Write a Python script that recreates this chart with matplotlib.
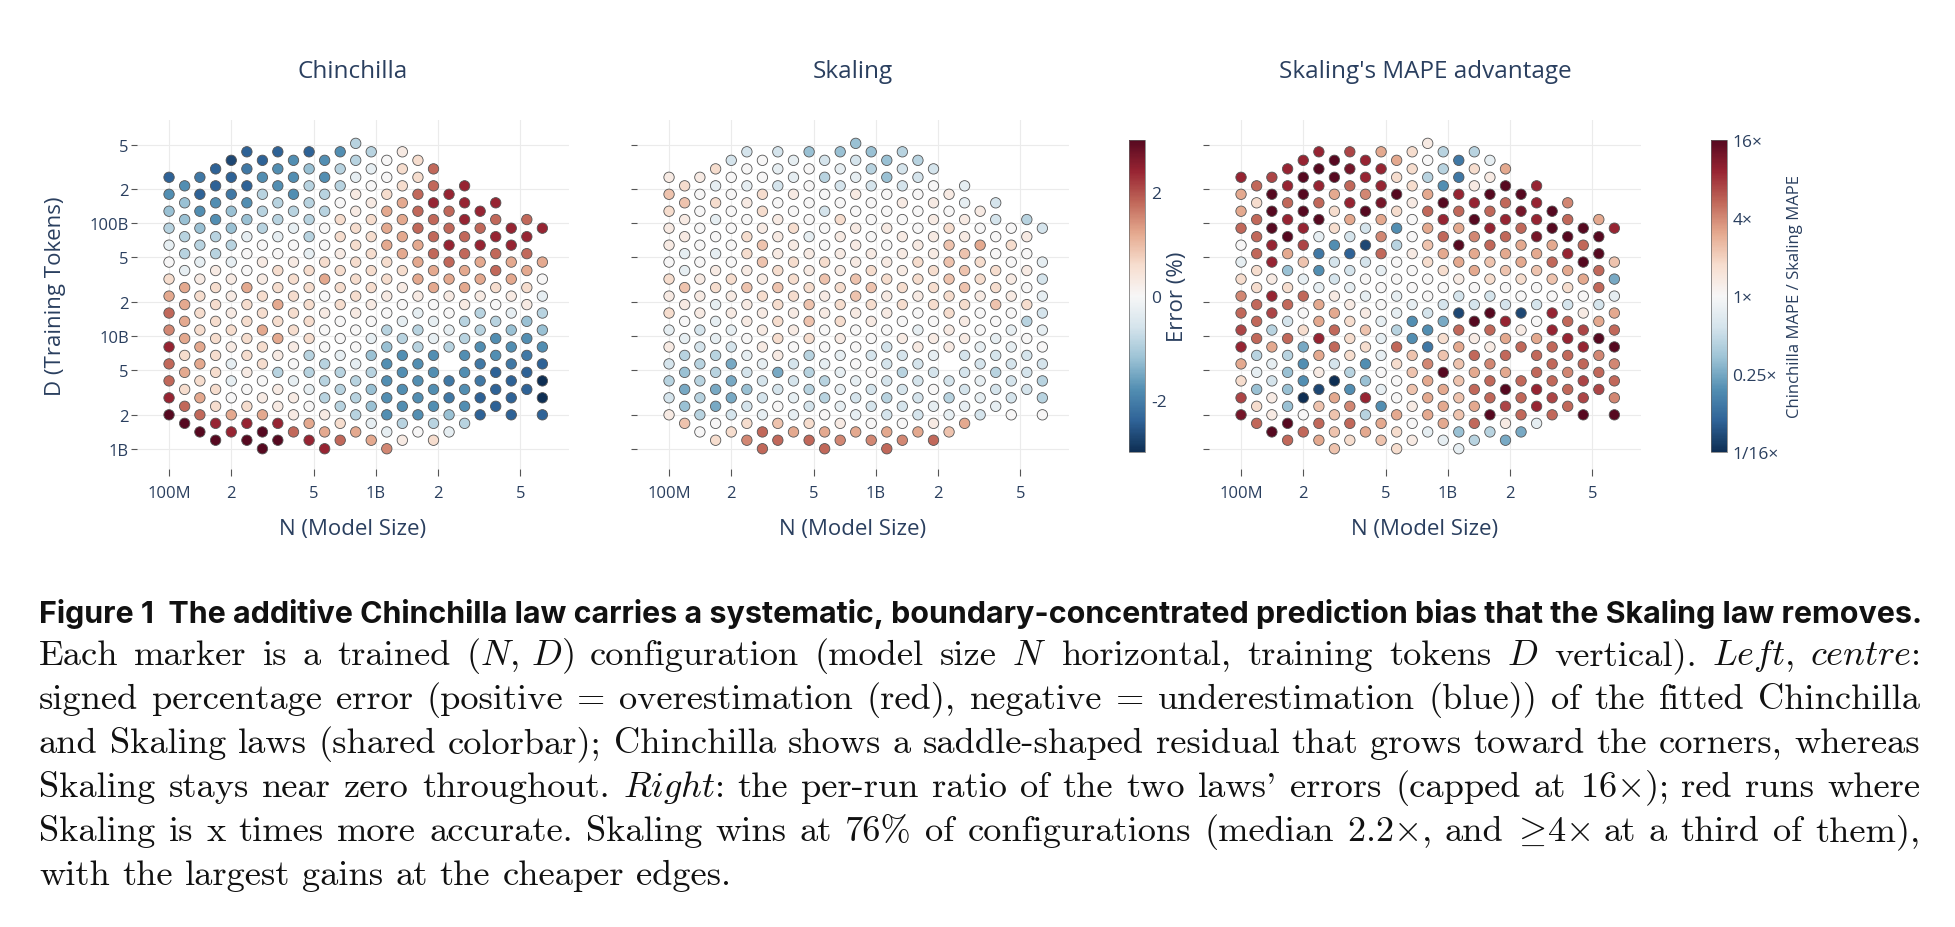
import matplotlib
matplotlib.use("Agg")
import matplotlib.pyplot as plt
import numpy as np
from matplotlib.colors import ListedColormap
from matplotlib.ticker import NullLocator

plt.rcParams["font.family"] = ["Open Sans", "DejaVu Sans"]
plt.rcParams["mathtext.fontset"] = "cm"

W, H = 1956, 928
TEXT = "#2a3f5f"

# grid of trained configurations: model size N (millions) per column, tokens D (billions) per row
n_params_m = [100, 119, 141, 168, 200, 238, 283, 336, 400, 476, 566, 673, 800,
              951, 1131, 1345, 1600, 1903, 2263, 2691, 3200, 3806, 4525, 5382, 6400]
d_tokens_b = [1.0, 1.19, 1.41, 1.68, 2.0, 2.38, 2.83, 3.36, 4.0, 4.76, 5.66, 6.73,
              8.0, 9.51, 11.3, 13.5, 16.0, 19.0, 22.6, 26.9, 32.0, 38.1, 45.3, 53.8,
              64.0, 76.1, 90.5, 108, 128, 152, 181, 215, 256, 304, 362, 431, 512]
# lowest D row of each column, the column then steps up two rows at a time
col_start = [4, 3, 2, 1, 2, 1, 0, 1, 2, 1, 0, 1, 2, 1, 0, 1, 2, 1, 2, 3, 4, 5, 4, 7, 4]

# signed error, in steps of 0.3 %, bottom to top per column (None = missing run)
ERR_STEP = 0.3
chin_err = [
    [10, 8, 6, 6, 8, 5, 6, 4, 2, 0, -1, -3, -4, -6, -8],
    [10, 6, 2, 4, 2, 4, 4, 4, 4, -1, -3, -3, -4, -4, -6],
    [10, 6, 4, 2, 4, 4, 2, 2, 2, 1, -1, -3, -4, -6, -8, -7],
    [10, 8, 2, 2, 2, 2, 2, 2, 2, 2, 1, -3, -3, -6, -6, -8, -8],
    [8, 4, 0, -1, -1, 1, 2, 1, 1, 1, -1, -3, -4, -4, -7, -8, -9],
    [10, 8, 2, 0, 1, 2, 2, 2, 2, 4, 0, 0, -1, -4, -6, -8, -7, -8],
    [10, 10, 4, 1, 0, 2, 2, 4, 2, 2, 1, 1, 0, -3, -3, -3, -6, -8],
    [10, 8, 1, 1, -3, 1, 4, 2, 4, 2, 2, 0, -1, -3, -3, -6, -6, -8],
    [6, 1, 1, -1, 0, 1, 2, 2, 2, 2, 1, 0, -1, -3, -6, -6, -6],
    [8, 4, 0, -1, -3, -3, 2, 2, 2, 2, 2, -1, -3, -3, -3, -3, -4, -8],
    [8, 4, 1, -3, -3, -3, 0, 0, 1, 0, 4, 2, 0, 0, -3, -3, -6, -6],
    [6, 2, -3, -3, -3, -1, 0, 0, 2, 2, 2, 1, 2, 2, 0, -3, -3, -6],
    [4, -3, -3, -3, -1, 0, 0, 1, 2, 2, 2, 2, 2, 1, 1, -1, -3, -3],
    [4, -1, -4, -4, -3, -4, -1, 0, 1, 2, 2, 2, 2, 2, 1, 0, -1, -3],
    [5, -1, -6, -6, -6, -6, -4, -3, 0, 1, 2, 2, 4, 4, 4, 2, 0, 0],
    [1, -3, -6, -6, -6, -6, -3, -1, 0, 1, 2, 4, 4, 4, 4, 2, 2, 1],
    [0, -6, -6, -6, -6, -3, -3, -1, 1, 4, 4, 4, 6, 6, 6, 2, 2],
    [2, -3, -6, -6, -6, -6, -1, -1, 0, 4, 4, 6, 6, 6, 8, 6, 6],
    [-1, -4, -7, -7, None, -3, -1, 0, 1, 4, 6, 8, 6, 6, 8],
    [-3, -6, -6, -6, -6, -3, -3, 1, 4, 4, 6, 6, 8, 8, 8],
    [-8, -8, -7, -7, -6, -3, -3, 1, 4, 4, 8, 6, 8],
    [-8, -8, -8, -6, -6, -3, 0, 2, 6, 6, 8, 6, 8],
    [-8, -8, -8, -7, -6, -4, -1, 1, 4, 4, 8, 8],
    [-8, -8, -7, -6, -4, 1, 2, 4, 6, 8, 6],
    [-8, -10, -10, -8, -6, -4, -3, -1, 0, 4, None, 8],
]
skal_err = [
    [1, -2, -3, -2, 1, -1, 2, 1, 2, 0, 1, 1, 2, 3, 1],
    [3, -4, -5, -4, -3, -1, 0, 1, 3, -1, -1, 1, 1, 3, 2],
    [0, -3, -3, -3, -3, -2, -2, 1, 1, 1, 0, 0, 0, 0, 0, 1],
    [2, 0, -5, -5, -3, -3, -1, -1, -1, 2, 1, -1, 0, -1, 2, -1, 2],
    [2, -2, -5, -5, -5, -2, -1, 1, 1, 2, 0, 0, 0, 0, 0, 0, -2],
    [5, 2, -2, -4, -2, -1, 0, 1, 1, 3, 1, 2, 2, 0, 1, -1, 0, -2],
    [6, 6, -1, -2, -2, -1, 1, 1, 1, 2, 1, 3, 3, 1, 2, 2, 0, 0],
    [6, 3, 0, -2, -5, 1, 2, 2, 2, 3, 2, 1, 1, 1, 0, -2, -1, -2],
    [4, -1, -1, -2, -2, 0, 1, 1, 2, 2, 2, 1, 2, 0, 1, -1, -1],
    [6, 2, -2, -3, -3, -3, 2, 3, 3, 2, 1, 1, -1, 0, 0, 0, 0, -4],
    [6, 4, 0, -3, -3, -1, 0, 0, 1, 1, 3, 2, 0, 0, -2, 0, -3, -2],
    [5, 1, -1, -1, -1, -1, 1, 2, 2, 2, 1, 1, 1, 2, 0, -2, -1, -4],
    [4, -1, -2, -1, 0, 0, 0, 1, 3, 3, 1, 1, 1, 0, 1, -1, -2, -4],
    [5, 0, -2, -2, 0, -2, 0, 1, 2, 3, 2, 1, 0, 0, 0, -2, -3, -4],
    [6, 4, -2, -3, -2, -2, -2, 0, 1, 1, 2, 1, 0, 1, 0, 0, -4, -4],
    [5, 0, -2, -2, -3, -2, 1, 0, 2, 2, 1, 1, 1, 0, 1, -2, -2, -3],
    [4, -2, -2, -2, -2, 1, -1, 0, 1, 2, 2, 1, 0, 0, 0, -2, -3],
    [6, 1, -1, 0, -2, -1, 1, 0, 2, 2, 2, 1, 1, 1, 1, 0, -2],
    [3, -1, -3, -2, None, 1, 1, 2, 2, 3, 3, 3, 2, 0, 1],
    [4, -1, -2, -2, -2, 1, 1, 2, 3, 3, 3, 1, 1, -1, -1],
    [-2, -1, -1, -2, -1, 0, 0, 1, 2, 2, 4, 0, 1],
    [-1, -2, -3, -2, -1, 0, 3, 2, 2, 0, 0, -2, -2],
    [0, -2, -2, -2, -1, -1, 0, 1, 1, 0, 2, 0],
    [-2, -2, -2, 0, -3, 2, 0, 1, 0, 1, -3],
    [0, -3, -3, -2, 0, -1, -2, -1, -2, -1, None, -2],
]
# Chinchilla MAPE / Skaling MAPE, log2 in steps of 0.4, capped at 16x
RATIO_STEP = 0.4
mape_ratio = [
    [9, 7, 2, 4, 8, 7, 6, 5, 2, -1, 0, 6, 4, 4, 8],
    [6, 2, -4, -1, -3, 6, 6, 6, 2, 2, 6, 6, 6, 2, 6],
    [10, 1, 1, -2, -1, 4, -3, 7, 8, 1, 8, 8, 10, 10, 10, 7],
    [6, 10, -4, -4, -4, -3, 6, -2, 6, 2, -4, 4, 10, 8, 6, 8, 8],
    [6, 0, -10, -6, -6, -5, 2, 0, 6, -1, 3, 7, 8, 10, 10, 10, 8],
    [4, 6, 3, -9, 1, 4, 8, 4, 4, -1, -6, -7, -1, 10, 6, 8, 10, 8],
    [3, 3, 3, 4, -10, -2, 6, 6, 4, 1, -2, -2, -6, 2, 2, 4, 10, 10],
    [2, 6, 5, -6, -3, 2, 2, 2, 1, -1, -2, -8, -2, 4, 8, 6, 9, 7],
    [4, -3, 8, -4, -6, 2, 3, 1, -1, 0, -2, -9, -2, 10, 5, 8, 8],
    [3, 4, -6, -1, 0, -1, -1, -1, 0, 0, -1, 6, 5, 4, 9, 8, 8, 4],
    [2, 2, 4, 0, 0, 2, 6, -3, -1, -1, 0, 0, -3, -6, 2, 10, 2, 4],
    [1, 0, 1, 3, 3, 3, -6, -6, -1, 0, 0, 1, 0, 0, 1, 2, 2, 2],
    [-1, 4, 4, 4, 5, -7, -6, -2, 0, 0, 2, 3, 4, 6, 4, -3, 0, 1],
    [-1, 4, 4, 4, 10, 3, 2, -5, -2, 0, 2, 4, 6, 8, 10, -6, -3, -3],
    [-1, -4, 3, 3, 3, 3, 4, 6, -9, -2, 1, 4, 10, 4, 6, 8, -7, -7],
    [-3, 6, 4, 6, 4, 6, 1, 10, -2, 0, 4, 4, 5, 10, 8, 1, 2, -3],
    [-3, 10, 6, 6, 5, 1, 6, 10, -2, 2, 3, 6, 8, 6, 10, 1, -1],
    [-5, 1, 7, 10, 4, 6, 4, 8, -2, 0, 3, 4, 6, 8, 6, 10, 4],
    [-5, 6, 6, 6, None, 6, 1, -9, 0, 2, 4, 4, 6, 9, 10],
    [-1, 8, 8, 6, 6, 4, 0, -2, 0, 3, 4, 9, 8, 8, 8],
    [6, 7, 6, 6, 6, 8, 8, 0, 3, 6, 4, 10, 10],
    [6, 6, 5, 6, 8, 6, -2, 2, 4, 8, 10, 6, 5],
    [10, 7, 7, 6, 8, 7, 1, 0, 4, 10, 6, 10],
    [7, 6, 5, 10, 4, -2, 6, 6, 10, 10, 4],
    [10, 5, 6, 5, 10, 6, 4, -1, -5, 3, None, 8],
]

x_ticks = [1e8, 2e8, 5e8, 1e9, 2e9, 5e9]
x_ticklabels = ["100M", "2", "5", "1B", "2", "5"]
y_ticks = [1e9, 2e9, 5e9, 1e10, 2e10, 5e10, 1e11, 2e11, 5e11]
y_ticklabels = ["1B", "2", "5", "10B", "2", "5", "100B", "2", "5"]


def rect(x, y, w, h):
    return [x / W, 1 - (y + h) / H, w / W, h / H]


def fpos(x, y):
    return x / W, 1 - y / H


# RdBu_r, a little muted like the exported figure
rgb = plt.get_cmap("RdBu_r")(np.linspace(0, 1, 256))[:, :3]
lum = (rgb @ np.array([0.299, 0.587, 0.114]))[:, None]
cmap = ListedColormap(rgb * 0.75 + lum * 0.25)

fig = plt.figure(figsize=(W / 100, H / 100), dpi=100)

panels = [
    ("Chinchilla", chin_err, ERR_STEP, -3, 3, 137),
    ("Skaling", skal_err, ERR_STEP, -3, 3, 637),
    ("Skaling's MAPE advantage", mape_ratio, RATIO_STEP, -4, 4, 1209),
]
scatters = []
for p, (title, cols, step, lo, hi, left) in enumerate(panels):
    ax = fig.add_axes(rect(left, 121.4, 432, 348.3))
    xs, ys, cs = [], [], []
    for k, col in enumerate(cols):
        for i, v in enumerate(col):
            if v is None:
                continue
            xs.append(n_params_m[k] * 1e6)
            ys.append(d_tokens_b[col_start[k] + 2 * i] * 1e9)
            cs.append(v * step)
    sc = ax.scatter(xs, ys, c=cs, cmap=cmap, vmin=lo, vmax=hi, s=56,
                    edgecolors="#555555", linewidths=0.6, zorder=3)
    scatters.append(sc)
    ax.set_xscale("log")
    ax.set_yscale("log")
    ax.set_xlim(10 ** 7.845, 10 ** 9.935)
    ax.set_ylim(10 ** 8.823, 10 ** 11.913)
    ax.xaxis.set_minor_locator(NullLocator())
    ax.yaxis.set_minor_locator(NullLocator())
    ax.set_xticks(x_ticks)
    ax.set_xticklabels(x_ticklabels)
    ax.set_yticks(y_ticks)
    ax.set_yticklabels(y_ticklabels if p == 0 else [""] * len(y_ticks))
    ax.grid(True, color="#ebebeb", lw=0.8)
    ax.set_axisbelow(True)
    for s in ax.spines.values():
        s.set_visible(False)
    ax.tick_params(axis="y", direction="out", length=4, width=0.8, color="#555555",
                   labelsize=12, labelcolor=TEXT, pad=2)
    ax.tick_params(axis="x", direction="out", length=5, width=0.8, color="#555555",
                   labelsize=12, labelcolor=TEXT, pad=7)
    fig.text(*fpos(left + 216, 72), title, ha="center", va="center",
             fontsize=17.5, color=TEXT)
    fig.text(*fpos(left + 216, 530), "N (Model Size)", ha="center", va="center",
             fontsize=16, color=TEXT)

fig.text(*fpos(56, 296), "D (Training Tokens)", rotation=90, ha="center", va="center",
         fontsize=16, color=TEXT)

# shared error colorbar
cax = fig.add_axes(rect(1129, 140.7, 16.4, 312.6))
cb = fig.colorbar(scatters[0], cax=cax)
cb.set_ticks([-2, 0, 2])
cb.set_ticklabels(["-2", "0", "2"])
cb.ax.tick_params(length=0, labelsize=12.5, labelcolor=TEXT, pad=4)
cb.outline.set_edgecolor("#666666")
cb.outline.set_linewidth(0.5)
fig.text(*fpos(1177, 297), "Error (%)", rotation=90, ha="center", va="center",
         fontsize=16, color=TEXT)

# ratio colorbar
cax2 = fig.add_axes(rect(1711, 140.7, 16, 312.6))
cb2 = fig.colorbar(scatters[2], cax=cax2)
cb2.set_ticks([-4, -2, 0, 2, 4])
cb2.set_ticklabels(["1/16×", "0.25×", "1×", "4×", "16×"])
cb2.ax.tick_params(length=0, labelsize=12.5, labelcolor=TEXT, pad=4)
cb2.outline.set_edgecolor("#666666")
cb2.outline.set_linewidth(0.5)
fig.text(*fpos(1795, 297), "Chinchilla MAPE / Skaling MAPE", rotation=90,
         ha="center", va="center", fontsize=12, color=TEXT)

# caption
renderer = fig.canvas.get_renderer()
X0, X1 = 39, 1920

head = fig.text(*fpos(X0, 623),
                "Figure 1  The additive Chinchilla law carries a systematic, "
                "boundary-concentrated prediction bias that the Skaling law removes.",
                fontsize=20, fontweight="bold", family=["Inter", "DejaVu Sans"],
                color="#111111", va="baseline", ha="left")
hw = head.get_window_extent(renderer).width
head.set_fontsize(20 * (1927 - X0) / hw)

body = [
    r"Each marker is a trained $(N,\,D)$ configuration (model size $N$ horizontal, "
    r"training tokens $D$ vertical). $\mathit{Left,}$ $\mathit{centre}$:",
    "signed percentage error (positive = overestimation (red), negative = "
    "underestimation (blue)) of the fitted Chinchilla",
    "and Skaling laws (shared colorbar); Chinchilla shows a saddle-shaped residual "
    "that grows toward the corners, whereas",
    r"Skaling stays near zero throughout. $\mathit{Right}$: the per-run ratio of the "
    r"two laws' errors (capped at 16$\times$); red runs where",
    r"Skaling is x times more accurate. Skaling wins at 76% of configurations "
    r"(median 2.2$\times$, and $\!\geq\!$4$\times$ at a third of them),",
    "with the largest gains at the cheaper edges.",
]
baselines = [665, 709, 753, 797, 841, 885]
base = 24
serif = ["cmr10", "DejaVu Serif"]

line_words = []
for line in body:
    words = [fig.text(0, 0, w_, fontsize=base, family=serif, color="#111111",
                      va="baseline", ha="left") for w_ in line.split(" ")]
    line_words.append(words)

space = 0.333 * base * 100 / 72
naturals = []
for words in line_words[:-1]:
    ws = [t.get_window_extent(renderer).width for t in words]
    naturals.append(sum(ws) + space * (len(ws) - 1))
scale = (X1 - X0) / max(naturals)
size = base * scale
space *= scale

for n, (words, yb) in enumerate(zip(line_words, baselines)):
    for t in words:
        t.set_fontsize(size)
    ws = [t.get_window_extent(renderer).width for t in words]
    if n < len(line_words) - 1:
        gap = (X1 - X0 - sum(ws)) / (len(ws) - 1)
    else:
        gap = space
    x = X0
    for t, w_ in zip(words, ws):
        t.set_position(fpos(x, yb))
        x += w_ + gap

fig.savefig("out.png", dpi=100, facecolor="white")
